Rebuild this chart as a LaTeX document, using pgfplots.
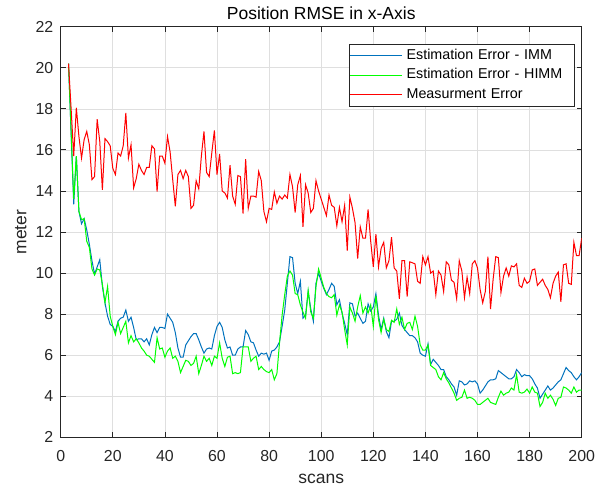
\documentclass[border=0pt]{standalone}
\usepackage{fontspec}
\setmainfont{Liberation Sans}
\usepackage{pgfplots}
\usepackage{pgfplotstable}
\pgfplotsset{compat=1.18}

\definecolor{immblue}{rgb}{0,0.447,0.741}
\definecolor{gridgray}{RGB}{223,223,223}
\definecolor{axgray}{RGB}{38,38,38}

% scan  IMM  HIMM  measurement
\pgfplotstableread{
x imm himm meas
3 20.2 20.2 20.2
4 16.8 16.9 18.0
5 13.35 13.6 15.7
6 15.7 15.7 18.05
7 13.0 13.0 16.65
8 12.4 12.6 15.6
9 12.65 12.65 16.5
10 12.1 11.55 16.9
11 11.4 11.25 16.25
12 10.6 10.2 14.55
13 9.95 9.9 14.7
14 10.3 10.2 17.5
15 10.65 10.15 16.4
16 9.35 9.45 14.05
17 8.55 8.55 16.55
18 7.9 9.35 16.4
19 7.5 7.9 16.2
20 7.4 7.4 15.1
21 7.15 7.0 14.8
22 7.65 7.6 15.85
23 7.8 7.05 15.7
24 7.85 7.35 16.2
25 8.2 7.65 17.8
26 7.65 6.6 15.6
27 7.85 6.95 16.25
28 7.35 6.65 14.15
29 6.75 6.8 14.6
30 6.8 6.6 15.3
31 6.8 6.35 15.0
32 6.65 6.2 14.8
33 6.8 6.0 15.15
34 6.5 5.95 15.15
35 7.0 5.8 16.2
36 7.35 5.65 16.05
37 7.1 6.85 13.97
38 7.35 6.3 15.7
39 7.35 6.35 15.7
40 7.3 5.9 15.35
41 8.0 6.2 16.65
42 7.8 6.35 15.9
43 7.6 5.85 14.55
44 7.1 5.95 13.25
45 6.35 5.7 14.8
46 5.9 5.15 15.0
47 5.9 5.45 14.6
48 6.5 5.75 15.0
49 6.7 5.7 14.7
50 6.9 5.5 13.15
51 7.05 5.6 13.3
52 7.05 5.95 14.5
53 6.75 5.1 14.1
54 6.4 5.5 15.7
55 6.1 5.95 16.9
56 6.3 5.7 14.9
57 6.35 5.85 14.7
58 6.3 5.5 15.85
59 6.95 5.95 16.95
60 7.4 5.85 14.8
61 7.6 6.6 15.8
62 7.35 5.85 14.0
63 6.75 5.45 13.9
64 6.35 5.9 13.65
65 6.4 5.95 15.25
66 6.0 5.1 13.75
67 6.0 5.15 13.35
68 6.3 5.1 14.75
69 6.4 5.15 14.7
70 6.4 6.4 12.9
71 7.2 6.4 15.55
72 7.0 6.4 13.15
73 6.65 5.7 13.75
74 6.6 5.85 13.75
75 6.25 5.95 13.7
76 5.95 5.3 14.95
77 6.1 5.45 14.5
78 6.05 5.3 13.0
79 6.1 5.2 12.5
80 5.75 5.15 13.15
81 6.2 5.3 13.1
82 6.25 4.8 13.95
83 6.4 5.1 13.4
84 6.65 6.6 13.75
85 7.4 7.95 13.6
86 8.2 8.95 13.8
87 9.5 9.85 13.65
88 10.8 10.1 14.8
89 10.75 9.9 14.2
90 9.5 9.0 12.95
91 9.0 8.95 14.3
92 9.6 8.45 14.75
93 7.8 8.1 12.25
94 7.95 7.8 14.3
95 9.1 9.15 13.9
96 8.25 8.1 12.95
97 7.65 7.8 13.15
98 9.5 9.35 14.5
99 10.0 10.2 14.0
100 9.6 9.75 13.6
101 9.25 9.3 13.2
102 8.95 9.0 12.8
103 9.2 8.85 13.8
104 9.5 8.8 13.3
105 9.35 8.95 13.2
106 8.45 7.95 12.3
107 8.7 8.45 13.2
108 8.05 8.1 12.5
109 7.55 7.25 13.3
110 7.0 6.5 11.1
111 8.55 8.35 13.7
112 8.5 8.05 13.15
113 7.9 7.65 12.45
114 8.05 8.35 10.7
115 7.8 8.9 12.25
116 7.55 8.05 11.7
117 7.65 8.35 11.7
118 8.5 8.05 13.1
119 8.15 8.45 11.55
120 8.35 7.4 10.3
121 9.0 8.9 11.9
122 7.95 7.75 10.3
123 7.25 7.1 11.2
124 7.8 7.75 11.5
125 7.15 7.25 10.25
126 6.85 7.15 10.6
127 7.65 7.7 11.75
128 7.65 7.6 10.25
129 7.75 8.25 10.1
130 8.05 7.5 8.75
131 7.45 7.85 10.6
132 7.25 7.25 10.6
133 7.1 7.55 8.85
134 6.95 7.6 10.55
135 6.95 7.25 10.5
136 6.85 7.9 10.45
137 6.65 7.4 9.6
138 6.1 6.5 9.5
139 6.0 6.25 10.8
140 5.95 6.25 10.4
141 6.55 6.5 10.8
142 5.55 5.5 10.0
143 5.8 5.4 10.1
144 5.65 5.3 8.95
145 5.5 4.95 10.1
146 5.3 4.8 9.9
147 5.3 5.15 9.1
148 4.95 4.85 10.55
149 4.8 4.65 10.4
150 4.6 4.4 9.65
151 4.45 4.15 9.55
152 4.05 3.8 8.75
153 4.75 3.9 10.6
154 4.7 3.95 10.1
155 4.55 4.3 8.8
156 4.6 3.9 9.8
157 4.75 3.95 9.0
158 4.7 3.9 10.45
159 4.75 3.8 10.6
160 4.6 3.6 10.25
161 4.15 3.6 9.2
162 4.3 3.7 8.55
163 4.5 3.8 9.1
164 4.7 3.9 10.8
165 4.8 3.7 8.25
166 4.8 3.65 9.7
167 4.85 3.6 10.8
168 5.25 3.95 10.75
169 5.15 4.25 9.05
170 5.05 4.05 9.85
171 4.95 4.15 10.25
172 4.85 4.2 9.85
173 4.85 4.4 10.35
174 4.95 4.3 10.3
175 5.3 5.05 10.45
176 5.15 4.2 9.4
177 4.95 4.15 9.3
178 5.05 4.2 9.75
179 5.0 4.35 9.5
180 5.0 4.15 9.6
181 4.85 4.45 10.15
182 4.6 4.2 10.2
183 4.4 4.15 9.4
184 3.9 3.5 9.55
185 4.1 3.7 9.7
186 4.3 4.15 9.4
187 4.5 3.9 9.2
188 4.3 4.05 8.8
189 4.4 3.85 9.5
190 4.55 3.55 9.85
191 4.7 3.9 10.05
192 4.8 3.95 8.6
193 5.1 4.45 10.4
194 5.4 4.4 10.45
195 5.25 4.3 9.5
196 5.15 4.15 9.45
197 4.95 4.45 11.5
198 4.8 4.2 10.85
199 4.95 4.3 10.85
200 5.15 4.3 11.7
}\rmse

\begin{document}
\begin{tikzpicture}
\begin{axis}[
  name=ax,
  scale only axis,
  width=521bp, height=410.6bp,
  xmin=0, xmax=200, ymin=2, ymax=22,
  xtick={0,20,...,200}, ytick={2,4,...,22},
  grid=major,
  major grid style={gridgray, line width=0.6bp},
  axis line style={axgray, line width=0.8bp},
  tick style={axgray, line width=0.8bp},
  major tick length=5bp,
  tick align=inside,
  xtick pos=both, ytick pos=both,
  /pgf/number format/assume math mode=true,
  tick label style={font=\fontsize{15.9bp}{18bp}\selectfont, text=axgray},
  xticklabel style={inner sep=0pt, anchor=north, yshift=-12.5bp},
  yticklabel style={inner sep=0pt, anchor=east, xshift=-7.2bp},
  every axis title/.style={at={(0.5,1)}, anchor=base, yshift=6.7bp,
    font=\fontsize{17.5bp}{20bp}\selectfont},
  title={Position RMSE in x-Axis},
  every axis x label/.style={at={(0.5,0)}, anchor=base, yshift=-45.7bp,
    font=\fontsize{17.5bp}{20bp}\selectfont, text=axgray},
  every axis y label/.style={at={(0,0.5)}, rotate=90, anchor=base, yshift=34.2bp,
    font=\fontsize{17.5bp}{20bp}\selectfont, text=axgray},
  xlabel={scans}, ylabel={meter},
  legend style={at={(1,1)}, anchor=north east, xshift=-6.7bp, yshift=-17.3bp,
    draw=axgray, line width=0.8bp, fill=white,
    inner xsep=0pt, inner ysep=4.8bp, row sep=6.2bp, column sep=4bp,
    font=\fontsize{14.3bp}{16bp}\selectfont,
    nodes={inner sep=0pt, text width=168bp, text height=10.3bp, text depth=3bp, align=left}},
  legend cell align=left,
  legend image code/.code={
    \path (0bp,0bp) -- (4.3bp,0bp);
    \draw[#1, line width=1bp] (4.3bp,0bp) -- (52bp,0bp);
  },
]
\addplot[immblue, line width=1bp] table[x=x, y=imm] {\rmse};
\addplot[green, line width=1bp] table[x=x, y=himm] {\rmse};
\addplot[red, line width=1bp] table[x=x, y=meas] {\rmse};
\legend{Estimation Error - IMM, Estimation Error - HIMM, Measurment Error}
\end{axis}
\pgfresetboundingbox
\path ([xshift=-60.7bp,yshift=-53.7bp]ax.south west) rectangle ([xshift=27.3bp,yshift=26.7bp]ax.north east);
\end{tikzpicture}
\end{document}
